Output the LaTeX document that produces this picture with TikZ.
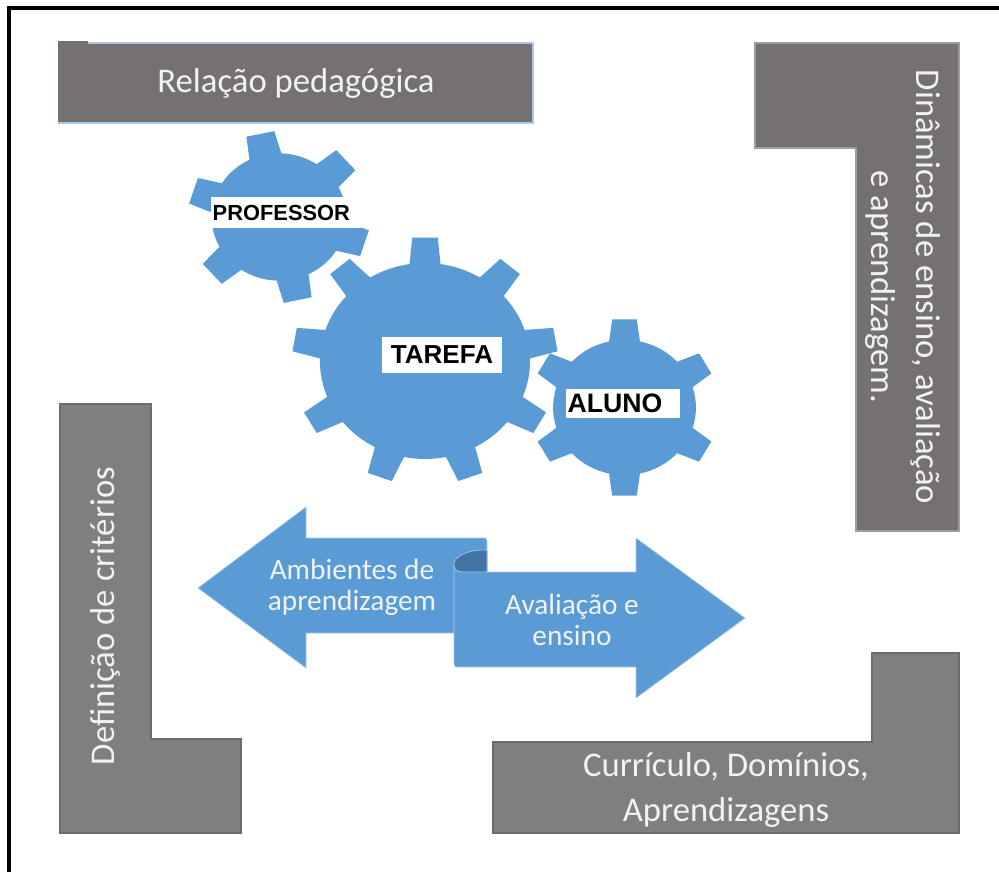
\documentclass[tikz,border=0pt]{standalone}
\usepackage{fontspec}
\setmainfont{Carlito}
\newfontfamily\cogfont{Liberation Sans}
\definecolor{bannergrey}{HTML}{767171}
\definecolor{blockgrey}{HTML}{7F7F7F}
\definecolor{cogblue}{HTML}{5B9BD5}
\definecolor{curlblue}{HTML}{4275A6}
\definecolor{rimblue}{HTML}{A9C8E8}
\definecolor{paletext}{HTML}{F2F2F2}

% gear outline on the unit circle: teeth, first tooth angle, hub radius, tip half-angle, root half-angle
\newcommand{\cogpath}[5]{%
  (#2-#5:#3) \foreach \k [evaluate=\k as \ang using #2+(\k-1)*360/#1] in {1,...,#1}{
    -- (\ang-#5:#3) -- (\ang-#4:1) -- (\ang+#4:1) -- (\ang+#5:#3)
    arc[start angle=\ang+#5, end angle=\ang+360/#1-#5, radius=#3]} -- cycle}

\begin{document}
\begin{tikzpicture}[x=0.75pt, y=-0.75pt,
    block/.style={fill=blockgrey, draw=blockgrey!85!black, line width=0.8pt},
    blocktext/.style={text=paletext, align=center, inner sep=0pt, font=\fontsize{26}{33.75}\selectfont},
    cog/.style={fill=cogblue},
    cogtag/.style={fill=white, text=black, inner sep=0pt, font=\cogfont\bfseries\fontsize{#1}{#1}\selectfont},
    flow/.style={fill=cogblue, draw=rimblue, line width=0.5pt},
    flowtext/.style={text=paletext, align=center, inner sep=0pt, font=\fontsize{22}{23.5}\selectfont}]

  \useasboundingbox (0,0) rectangle (999,872);
  % frame, only top and left show
  \draw[line width=3pt] (9,872) -- (9,8) -- (999,8);

  % grey blocks
  \fill[bannergrey] (58,41) -- (88,41) -- (88,43) -- (533,43) -- (533,123) -- (58,123) -- cycle;
  \draw[rimblue, line width=0.8pt] (88,43) -- (533,43) -- (533,123) -- (58,123);
  \node[blocktext] (relacao) at (296,83) {Relação pedagógica};

  \filldraw[fill=bannergrey, draw=bannergrey!70!white, line width=0.8pt] (755,43) -- (959,43) -- (959,531) -- (856,531) -- (856,148) -- (755,148) -- cycle;
  \node[blocktext, rotate=-90] (dinamicas) at (903,287) {Dinâmicas de ensino, avaliação\\e aprendizagem.};

  \filldraw[block] (60,404) -- (151,404) -- (151,739) -- (241,739) -- (241,833) -- (60,833) -- cycle;
  \node[blocktext, rotate=90] (criterios) at (105,616) {Definição de critérios};

  \filldraw[block] (493,742) -- (872,742) -- (872,653) -- (959,653) -- (959,833) -- (493,833) -- cycle;
  \node[blocktext] (curriculo) at (726,790) {Currículo, Domínios,\\Aprendizagens};

  % gears
  \begin{scope}[shift={(279,217)}, xscale=91, yscale=86]
    \fill[cog] \cogpath{6}{18}{0.74}{9}{14};
  \end{scope}
  \begin{scope}[shift={(425,361)}, xscale=133, yscale=124]
    \fill[cog] \cogpath{9}{30}{0.79}{5.5}{8.5};
  \end{scope}
  \begin{scope}[shift={(624.5,407.5)}, xscale=94, yscale=89]
    \fill[cog] \cogpath{6}{30}{0.76}{7.5}{12.5};
  \end{scope}

  \node[cogtag=16.4, text width=110pt, align=left, inner xsep=1pt, minimum height=23pt] (professor) at (286,212.5) {PROFESSOR};
  \node[cogtag=19.5, minimum width=90pt, minimum height=27pt] (tarefa) at (442,355) {TAREFA};
  \node[cogtag=20, text width=83pt, align=left, inner xsep=1pt, minimum height=22pt] (aluno) at (623,403.5) {ALUNO};

  % double arrow
  \filldraw[flow] (198,588) -- (306,507) -- (306,538) -- (481,538) .. controls (487,538) .. (487,544) -- (487,633) -- (306,633) -- (306,668) -- cycle;
  \filldraw[flow] (454,562) -- (454,661) .. controls (454,667) .. (460,667) -- (636,667) -- (636,698) -- (745,618) -- (636,538) -- (636,572) -- (487,572) -- (487,552) -- cycle;
  \filldraw[fill=curlblue, draw=rimblue, line width=0.5pt] (454,562) .. controls (458,553) and (476,549) .. (487,550) -- (487,572) -- (462,572) .. controls (456,571) .. (454,566) -- cycle;
  \node[flowtext] (ambientes) at (352,587) {Ambientes de\\aprendizagem};
  \node[flowtext] (avaliacao) at (572,620) {Avaliação e\\ensino};
\end{tikzpicture}
\end{document}
